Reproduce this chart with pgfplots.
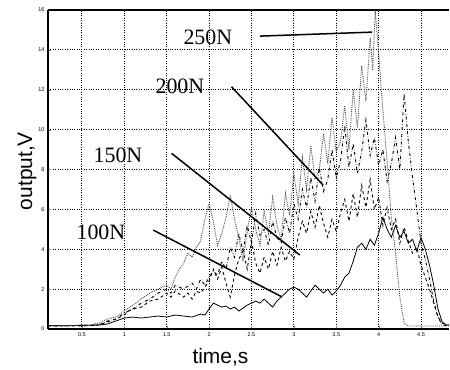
\documentclass[border=0pt]{standalone}
\usepackage{pgfplots}
\pgfplotsset{compat=1.18}
\usepackage{fontspec}
\setmainfont{Liberation Serif}
\setsansfont{Liberation Sans}
\begin{document}
\begin{tikzpicture}
\begin{axis}[name=ax,
  scale only axis, width=401bp, height=319bp,
  xmin=0.1, xmax=4.83, ymin=0, ymax=16,
  xtick={0.5,1,1.5,2,2.5,3,3.5,4,4.5},
  xticklabels={0.5,1,1.5,2,2.5,3,3.5,4,4.5},
  ytick={0,2,4,6,8,10,12,14,16},
  axis x line*=box, axis y line*=left,
  xtick pos=bottom, ytick pos=left,
  tick align=inside, major tick length=3pt,
  axis line style={line width=1.3pt},
  grid=major, major grid style={black, dotted, line width=0.9pt},
  tick label style={font=\sffamily\fontsize{5.5}{6}\selectfont},
  /pgf/number format/assume math mode=true,
  xlabel={\sffamily\fontsize{21}{21}\selectfont time,s},
  ylabel={\sffamily\fontsize{21}{21}\selectfont output,V},
  xlabel style={at={(axis description cs:0.43,-0.088)}, anchor=center},
  ylabel style={at={(axis description cs:-0.052,0.495)}, anchor=center},
]
% 100N
\addplot[black, line width=0.8pt] table {
x y
0.1 0.18
0.3 0.17
0.5 0.18
0.7 0.2
0.8 0.25
0.9 0.4
1.0 0.55
1.1 0.6
1.2 0.55
1.3 0.6
1.4 0.65
1.5 0.6
1.6 0.7
1.7 0.65
1.8 0.6
1.9 0.75
1.95 0.7
2.0 1.0
2.05 1.3
2.1 1.2
2.15 1.1
2.2 1.15
2.25 1.0
2.3 1.1
2.35 0.9
2.4 1.05
2.45 1.2
2.5 1.3
2.55 1.4
2.6 1.3
2.65 1.5
2.7 1.3
2.75 1.1
2.8 1.4
2.85 1.6
2.9 1.8
2.95 2.0
3.0 2.1
3.05 2.0
3.1 1.8
3.15 1.6
3.2 1.9
3.25 2.2
3.3 2.0
3.35 1.8
3.4 2.0
3.45 1.7
3.5 1.9
3.55 2.2
3.6 2.6
3.65 2.8
3.7 3.4
3.75 4.1
3.8 4.3
3.85 4.0
3.9 4.5
3.95 4.2
4.0 4.8
4.05 5.6
4.1 5.0
4.15 4.6
4.2 5.2
4.25 4.6
4.3 4.9
4.35 4.3
4.4 4.5
4.45 3.9
4.5 4.6
4.55 4.0
4.6 3.2
4.65 2.2
4.7 1.0
4.75 0.35
4.8 0.2
4.83 0.2
};
% 150N
\addplot[black, dashed, line width=0.9pt] table {
x y
0.1 0.15
0.5 0.15
0.7 0.2
0.8 0.35
0.9 0.5
1.0 0.7
1.05 0.9
1.1 1.0
1.2 1.1
1.3 1.4
1.4 1.5
1.5 1.8
1.55 1.6
1.6 1.9
1.7 1.6
1.75 1.8
1.8 1.5
1.85 1.9
1.9 1.8
1.95 2.1
2.0 2.4
2.05 3.0
2.1 2.5
2.15 3.1
2.2 2.3
2.25 1.6
2.3 2.7
2.35 3.5
2.4 3.9
2.45 3.0
2.5 4.4
2.55 3.3
2.6 2.8
2.65 3.6
2.7 3.0
2.75 3.9
2.8 3.2
2.85 4.1
2.9 3.4
2.95 3.9
3.0 3.5
3.05 4.6
3.1 5.4
3.15 4.8
3.2 5.9
3.25 5.1
3.3 6.2
3.35 5.3
3.4 4.6
3.45 5.5
3.5 4.9
3.55 5.8
3.6 6.5
3.65 5.4
3.7 6.8
3.75 5.6
3.8 7.2
3.85 6.1
3.9 7.5
3.95 6.0
4.0 6.6
4.05 5.2
4.1 6.1
4.15 5.0
4.2 5.5
4.25 4.3
4.3 5.1
4.35 4.4
4.4 3.8
4.45 4.1
4.5 3.2
4.55 2.6
4.6 2.0
4.65 1.3
4.7 0.6
4.75 0.3
4.8 0.2
4.83 0.2
};
% 200N
\addplot[black, dash dot, line width=0.9pt] table {
x y
0.1 0.15
0.7 0.2
0.8 0.4
0.9 0.5
1.0 0.8
1.1 1.0
1.2 1.3
1.3 1.5
1.4 1.8
1.5 2.0
1.55 1.8
1.6 2.2
1.7 2.0
1.8 2.3
1.85 2.0
1.9 2.5
1.95 2.2
2.0 2.6
2.05 2.9
2.1 2.7
2.15 3.4
2.2 3.0
2.25 4.1
2.3 3.6
2.35 4.8
2.4 3.9
2.45 5.2
2.5 4.3
2.55 5.8
2.6 4.7
2.65 5.0
2.7 4.2
2.75 5.4
2.8 4.6
2.85 4.3
2.9 5.6
2.95 4.8
3.0 6.3
3.05 5.5
3.1 7.0
3.15 6.1
3.2 7.6
3.25 6.4
3.3 8.1
3.35 6.9
3.4 7.5
3.45 9.0
3.5 7.6
3.55 8.4
3.6 10.2
3.65 8.1
3.7 9.3
3.75 7.8
3.8 8.9
3.85 10.5
3.9 8.7
3.95 9.6
4.0 8.2
4.05 9.0
4.1 7.4
4.15 8.3
4.2 9.6
4.25 8.0
4.3 11.8
4.35 9.4
4.4 7.6
4.45 6.0
4.5 4.3
4.55 3.5
4.6 2.5
4.65 1.4
4.7 0.6
4.75 0.2
4.83 0.15
};
% 250N
\addplot[black!70, densely dotted, line width=0.9pt] table {
x y
0.1 0.15
0.6 0.2
0.7 0.3
0.8 0.5
0.9 0.6
1.0 0.9
1.1 1.2
1.2 1.5
1.3 1.8
1.4 2.0
1.5 2.2
1.55 2.0
1.6 2.6
1.65 3.0
1.7 3.3
1.75 3.8
1.8 3.6
1.85 4.1
1.9 4.4
1.95 5.5
2.0 6.3
2.05 5.4
2.1 4.2
2.15 4.8
2.2 5.6
2.25 6.7
2.3 5.5
2.35 4.6
2.4 3.4
2.45 4.9
2.5 6.1
2.55 5.0
2.6 4.2
2.65 5.9
2.7 4.8
2.75 6.6
2.8 5.2
2.85 4.5
2.9 6.8
2.95 5.7
3.0 7.8
3.05 6.3
3.1 8.6
3.15 7.0
3.2 9.2
3.25 7.5
3.3 8.0
3.35 9.8
3.4 8.3
3.45 10.6
3.5 8.9
3.55 9.4
3.6 11.2
3.65 9.0
3.7 12.0
3.75 10.1
3.8 13.2
3.85 11.4
3.9 14.6
3.93 13.0
3.96 16.0
4.0 13.8
4.05 11.0
4.1 8.4
4.15 5.6
4.2 3.8
4.25 1.6
4.3 0.3
4.35 0.15
4.83 0.15
};
% annotations
\draw[line width=1.5pt] (axis cs:2.60,14.69) -- (axis cs:3.92,14.89);
\draw[line width=1.5pt] (axis cs:2.265,12.15) -- (axis cs:3.345,7.22);
\draw[line width=1.5pt] (axis cs:1.558,8.81) -- (axis cs:3.07,3.71);
\draw[line width=1.5pt] (axis cs:1.342,4.96) -- (axis cs:2.855,1.62);
\node[font=\fontsize{22}{22}\selectfont] at (axis cs:1.986,14.62) {250N};
\node[font=\fontsize{22}{22}\selectfont] at (axis cs:1.656,12.16) {200N};
\node[font=\fontsize{22}{22}\selectfont] at (axis cs:0.925,8.73) {150N};
\node[font=\fontsize{22}{22}\selectfont] at (axis cs:0.724,4.86) {100N};
\end{axis}
\path ([shift={(-48bp,-38bp)}]ax.south west) rectangle ([shift={(1bp,10bp)}]ax.north east);
\end{tikzpicture}
\end{document}
